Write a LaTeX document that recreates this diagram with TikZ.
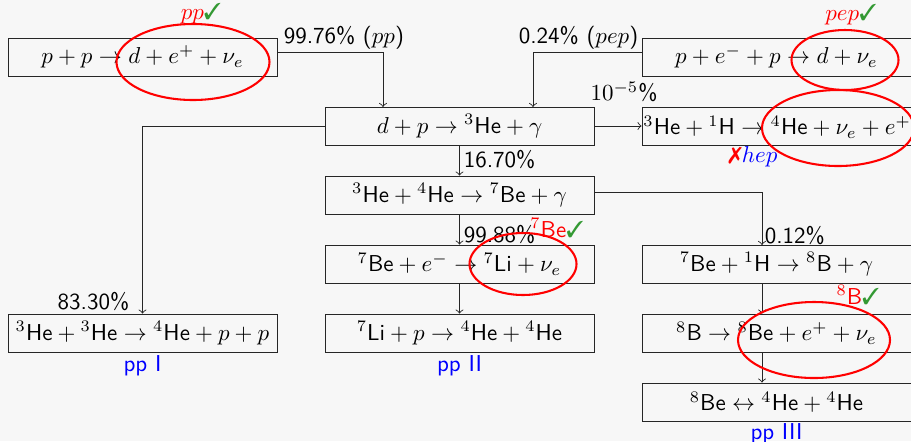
\documentclass[tikz,border=0pt]{standalone}
\usepackage{pifont}
\usetikzlibrary{shapes.geometric}
\definecolor{ok}{rgb}{0.2,0.6,0.2}
\newcommand{\elm}[1]{\textsf{#1}}
\newcommand{\pxu}{0.435pt}
\begin{document}
\begin{tikzpicture}[x=\pxu,y=-\pxu,
  box/.style={draw=black!85, line width=0.38pt, minimum width={269*\pxu}, minimum height={38*\pxu}, inner sep=0pt, font=\sffamily},
  arr/.style={->, draw=black!85, line width=0.38pt},
  pct/.style={font=\sffamily, inner sep=1pt},
  ell/.style={ellipse, draw=red, line width=0.9pt, inner sep=0pt},
  chan/.style={font=\sffamily, text=blue, inner sep=0pt},
  tag/.style={font=\sffamily, inner sep=0pt}]
\fill[black!3] (0,0) rectangle (911,441);
\useasboundingbox (0,0) rectangle (911,441);
% boxes
\node[box] (pp) at (142.5,57) {$p+p\to d+e^++\nu_e$};
\node[box] (pep) at (776.5,57) {$p+e^-+p\to d+\nu_e$};
\node[box] (dp) at (459.5,126) {$d+p\to{}^3\elm{He}+\gamma$};
\node[box] (hep) at (776.5,126) {};
\node[anchor=west, inner sep=0pt, font=\sffamily] (heptext) at (643,127) {$^3\elm{He}+{}^1\elm{H}\to{}^4\elm{He}+\nu_e+e^+$};
\node[box] (hehe) at (459.5,195) {$^3\elm{He}+{}^4\elm{He}\to{}^7\elm{Be}+\gamma$};
\node[box] (bee) at (459.5,264) {$^7\elm{Be}+e^-\to{}^7\elm{Li}+\nu_e$};
\node[box] (beh) at (776.5,264) {$^7\elm{Be}+{}^1\elm{H}\to{}^8\elm{B}+\gamma$};
\node[box] (ppI) at (142.5,333) {$^3\elm{He}+{}^3\elm{He}\to{}^4\elm{He}+p+p$};
\node[box] (lip) at (459.5,333) {$^7\elm{Li}+p\to{}^4\elm{He}+{}^4\elm{He}$};
\node[box] (bb) at (776.5,333) {$^8\elm{B}\to{}^8\elm{Be}+e^++\nu_e$};
\node[box] (be8) at (776.5,402) {$^8\elm{Be}\leftrightarrow{}^4\elm{He}+{}^4\elm{He}$};
% channel labels
\node[chan] (c1) at (142.5,366) {pp I};
\node[chan] (c2) at (459.5,366) {pp II};
\node[chan] (c3) at (776.5,434) {pp III};
% connectors
\coordinate (t1) at (383,107);
\coordinate (t2) at (533,107);
\coordinate (t3) at (762,245);
\coordinate (s1) at (277,52);
\coordinate (s2) at (642,52);
\coordinate (s3) at (594,192);
\draw[arr] (pp.east |- s1) -| (t1);
\draw[arr] (pep.west |- s2) -| (t2);
\draw[arr] (dp.east) -- (hep.west);
\draw[arr] (dp.west) -| (ppI.north);
\draw[arr] (dp.south) -- (hehe.north);
\draw[arr] (hehe.south) -- (bee.north);
\draw[arr] (hehe.east |- s3) -| (t3);
\draw[arr] (bee.south) -- (lip.north);
\draw[arr] (beh.south -| t3) -- (bb.north -| t3);
\draw[arr] (bb.south -| t3) -- (be8.north -| t3);
% percentages
\node[pct, anchor=south west] (l1) at (281,52) {99.76\% ($pp$)};
\node[pct, anchor=south east] (l2) at (641,52) {0.24\% ($pep$)};
\node[pct] (l3) at (624,92) {$10^{-5}$\%};
\node[pct, anchor=west] (l4) at (461,160) {16.70\%};
\node[pct, anchor=west] (l5) at (461,235) {99.88\%};
\node[pct, anchor=west] (l6) at (762,236) {0.12\%};
\node[pct, anchor=east] (l7) at (132,302) {83.30\%};
% ellipses
\node[ell, minimum width={153*\pxu}, minimum height={76*\pxu}] (e1) at (193,62) {};
\node[ell, minimum width={107*\pxu}, minimum height={60*\pxu}] (e2) at (845,60) {};
\node[ell, minimum width={152*\pxu}, minimum height={76*\pxu}] (e3) at (838,128) {};
\node[ell, minimum width={107*\pxu}, minimum height={62*\pxu}] (e4) at (523,264) {};
\node[ell, minimum width={152*\pxu}, minimum height={76*\pxu}] (e5) at (814,340) {};
% tags
\node[tag] (m1) at (201,14) {\textcolor{red}{$pp$}\textcolor{ok}{\ding{51}}};
\node[tag] (m2) at (851,15) {\textcolor{red}{$pep$}\textcolor{ok}{\ding{51}}};
\node[tag] (m3) at (753,157) {\textcolor{red}{\ding{55}}\textcolor{blue}{$hep$}};
\node[tag] (m4) at (557,228) {\textcolor{red}{$^7$Be}\textcolor{ok}{\ding{51}}};
\node[tag] (m5) at (858,295) {\textcolor{red}{$^8$B}\textcolor{ok}{\ding{51}}};
\end{tikzpicture}
\end{document}
